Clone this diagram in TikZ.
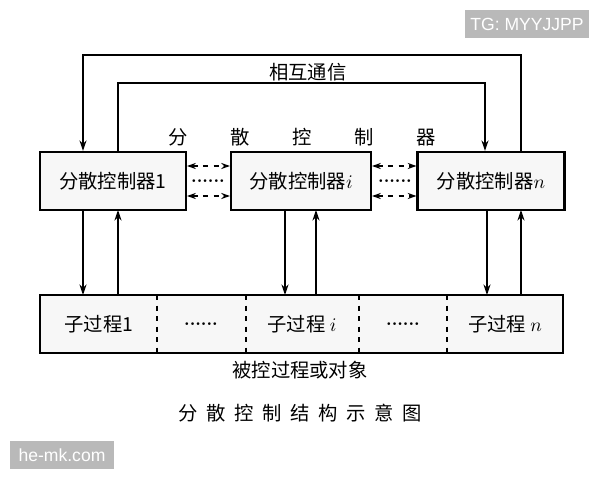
\documentclass[tikz,border=0pt]{standalone}
\usepackage{fontspec}
\newfontfamily\cjk{Noto Sans CJK SC}
\newfontfamily\wm{Liberation Sans}
\usetikzlibrary{arrows.meta}
\begin{document}
\begin{tikzpicture}[x=0.02cm,y=-0.02cm,
  box/.style={draw,line width=1.2pt,fill=gray!6,minimum height=1.16cm,inner sep=0pt,font=\cjk\fontsize{11}{11}\selectfont},
  arr/.style={-{Stealth[length=6pt,width=4pt]},line width=0.7pt},
  darr/.style={{Stealth[length=5pt,width=3.5pt]}-{Stealth[length=5pt,width=3.5pt]},dashed,line width=0.7pt},
  lab/.style={font=\cjk\fontsize{11}{11}\selectfont},
  wmk/.style={fill=gray!55,text=white,font=\wm\fontsize{10}{10}\selectfont,inner sep=0pt}]
\useasboundingbox (0,0) rectangle (600,480);
\node[box,minimum width=2.92cm] (c1) at (113,181) {分散控制器1};
\node[box,minimum width=2.8cm] (ci) at (301,181) {分散控制器$i$};
\node[box,minimum width=2.94cm] (cn) at (491,181) {分散控制器$n$};
\node[draw,line width=1.2pt,fill=gray!6,minimum width=10.46cm,minimum height=1.16cm,inner sep=0pt] (bar) at (301.5,324) {};
\foreach \x in {157,246,359,447} \draw[dashed,line width=1pt] (\x,295) -- (\x,353);
\node[lab] (p1) at (99,324) {子过程1};
\node[lab] (pi) at (302,324) {子过程 $i$};
\node[lab] (pn) at (505,324) {子过程 $n$};
\node (d1) at (201,324) {\textbf{......}};
\node (d2) at (403,324) {\textbf{......}};
\coordinate (o1) at (521,55); \coordinate (o2) at (83,55);
\draw[arr] (cn.north -| o1) -- (o1) -- (o2) -- (c1.north -| o2);
\coordinate (i1) at (118,83); \coordinate (i2) at (485,83);
\draw[arr] (c1.north -| i1) -- (i1) -- (i2) -- (cn.north -| i2);
\node[lab] (comm) at (308,72) {相互通信};
\node[lab] (title1) at (302,137) {分\hspace{2.2em}散\hspace{2.2em}控\hspace{2.2em}制\hspace{2.2em}器};
\foreach \a/\b in {83/118,285/316,487/521}{
  \coordinate (t\a) at (\a,295); \coordinate (t\b) at (\b,295);
  \draw[arr] (\a,210) -- (t\a);
  \draw[arr] (t\b) -- (\b,210);}
\foreach \y in {166,196}{
  \draw[darr] (c1.east |- 0,\y) -- (ci.west |- 0,\y);
  \draw[darr] (ci.east |- 0,\y) -- (cn.west |- 0,\y);}
\node (e1) at (208,181) {\textbf{......}};
\node (e2) at (395,181) {\textbf{......}};
\node[lab] (obj) at (300,370) {被控过程或对象};
\node[lab] (cap) at (300,413) {分\hspace{0.45em}散\hspace{0.45em}控\hspace{0.45em}制\hspace{0.45em}结\hspace{0.45em}构\hspace{0.45em}示\hspace{0.45em}意\hspace{0.45em}图};
\node[wmk,minimum width=2.5cm,minimum height=0.56cm] (w1) at (527,24) {TG: MYYJJPP};
\node[wmk,minimum width=2.1cm,minimum height=0.56cm] (w2) at (62,455) {he-mk.com};
\end{tikzpicture}
\end{document}
